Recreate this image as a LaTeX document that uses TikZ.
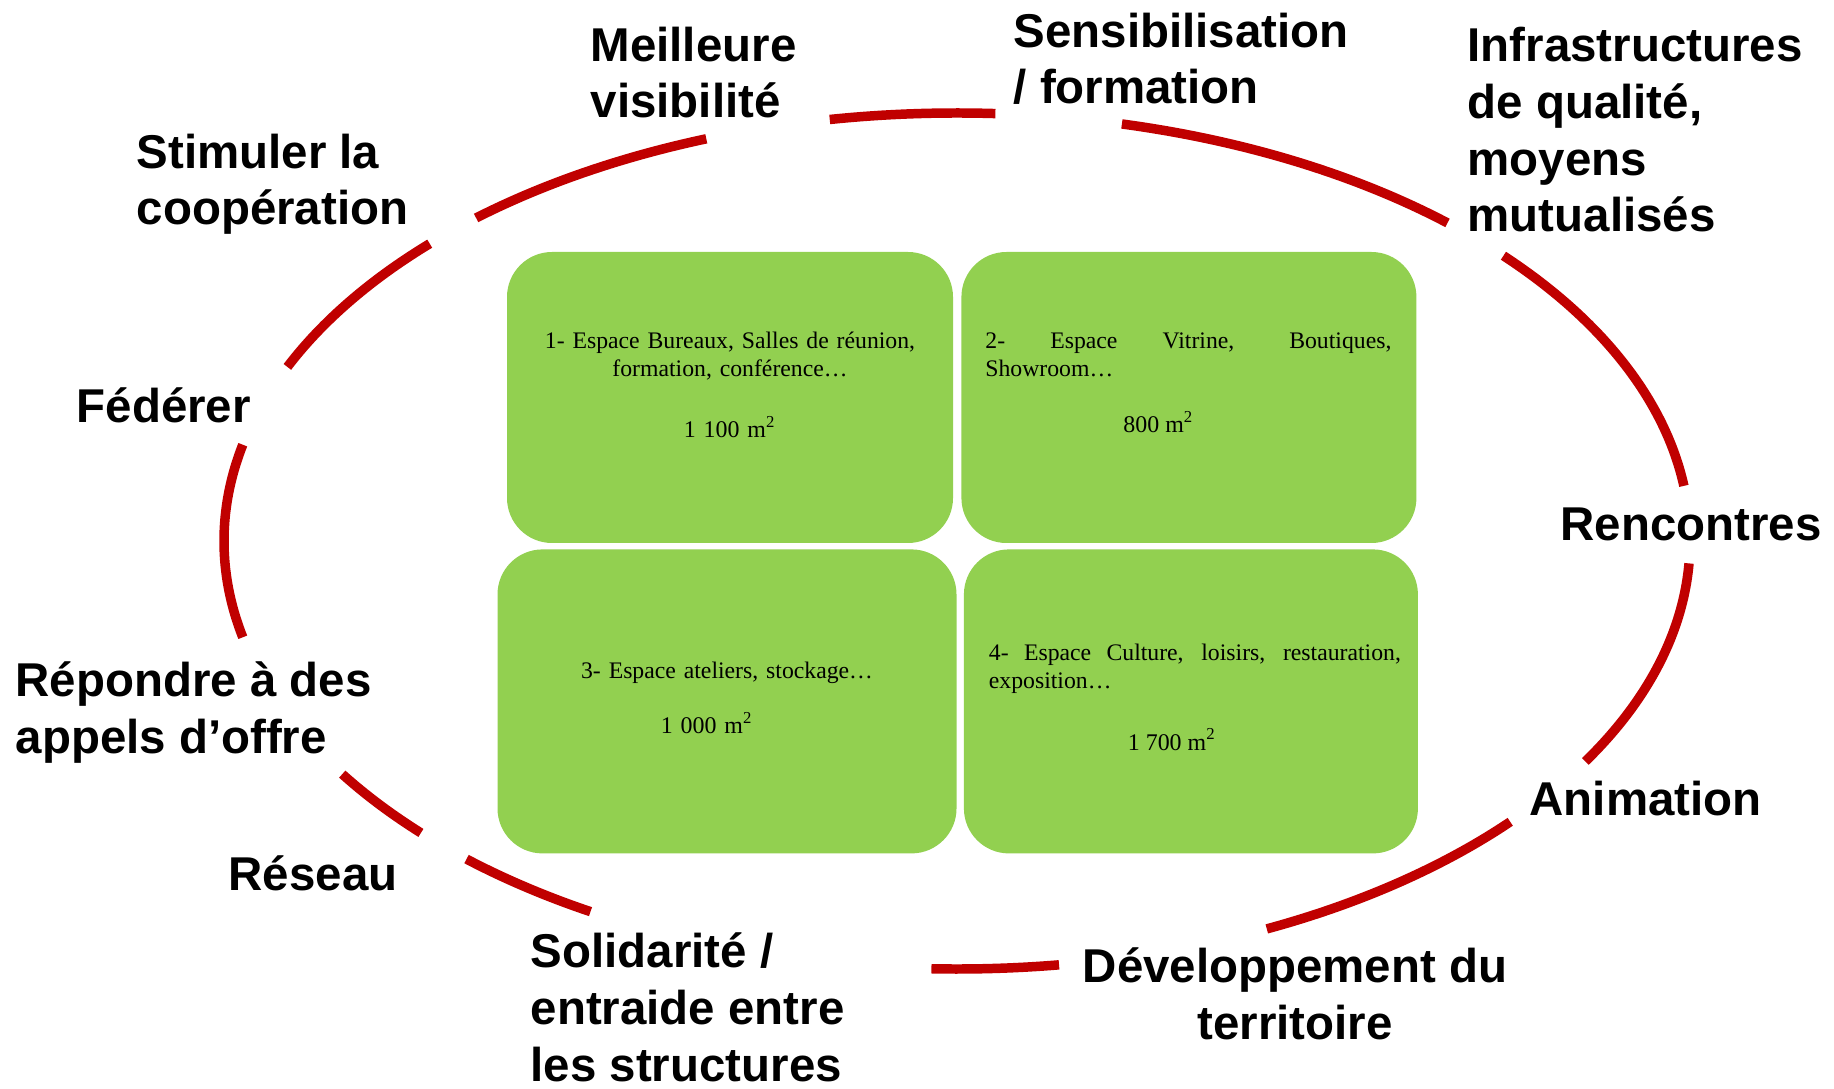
\documentclass[tikz,border=0pt]{standalone}
\usepackage{fontspec}
\setsansfont{Liberation Sans}
\newfontfamily\zonefont{Liberation Serif}
\usetikzlibrary{positioning}
\definecolor{ringred}{HTML}{C00000}
\definecolor{boxgreen}{HTML}{92D050}

\begin{document}
\begin{tikzpicture}[
ring/.style={draw=ringred, line width=2.7pt},
zone/.style={rectangle, rounded corners=0.45cm, fill=boxgreen, inner sep=0pt},
zonetext/.style={inner sep=0pt, font=\zonefont\fontsize{6.75}{8}\selectfont},
theme/.style={anchor=base west, align=left, inner sep=0pt, font=\sffamily\bfseries\fontsize{13.5}{16.2}\selectfont}
]
\useasboundingbox (0,0) rectangle (18.34,10.88);
\coordinate (hub) at (9.57,5.47);

\foreach \s/\e in {110/131, 87/100, 48/77, 7.4/41.8, -31/-3, -65/-41, -92/-82, -132/-120, -147/-137, 167/193, 136/156}
  \draw[ring] (hub) ++(\s:7.33cm and 4.28cm) arc[start angle=\s, end angle=\e, x radius=7.33cm, y radius=4.28cm];

\node[zone, minimum width=4.46cm, minimum height=2.91cm](bureaux) at (7.30,6.905){};
\node[zone, minimum width=4.55cm, minimum height=2.91cm](vitrine)[right=0.07cm of bureaux]{};
\node[zone, minimum width=4.59cm, minimum height=3.04cm](ateliers)[below=0.05cm of bureaux, xshift=-0.03cm]{};
\node[zone, minimum width=4.54cm, minimum height=3.04cm](culture)[right=0.06cm of ateliers]{};

\node[zonetext, text width=4.46cm, align=center](bureaux_txt)[below=0.8cm of bureaux.north]{1- Espace Bureaux, Salles de réunion,\\ formation, conférence\dots\par\vspace{0.33cm}{\fontsize{6.8}{8.5}\selectfont 1 100 m\textsuperscript{2}}};
\node[zonetext, text width=4.06cm, align=justify](vitrine_txt)[below right=0.81cm and 0.24cm of vitrine.north west]{2- Espace Vitrine, Boutiques,\linebreak Showroom\dots\par\vspace{0.28cm}\hspace*{1.38cm}{\fontsize{6.8}{8.5}\selectfont 800 m\textsuperscript{2}}};
\node[zonetext, text width=4.59cm, align=center](ateliers_txt)[below=1.13cm of ateliers.north]{3- Espace ateliers, stockage\dots\par\vspace{0.27cm}\hspace*{-0.4cm}{\fontsize{6.8}{8.5}\selectfont 1 000 m\textsuperscript{2}}};
\node[zonetext, text width=4.12cm, align=justify](culture_txt)[below right=0.95cm and 0.25cm of culture.north west]{4- Espace Culture, loisirs, restauration,\linebreak exposition\dots\par\vspace{0.33cm}\hspace*{1.39cm}{\fontsize{6.8}{8.5}\selectfont 1 700 m\textsuperscript{2}}};

\node[theme](visibilite) at (5.90,9.70){Meilleure\\visibilité};
\node[theme](sensibilisation) at (10.13,9.84){Sensibilisation\\/ formation};
\node[theme](infrastructures) at (14.67,8.56){Infrastructures\\de qualité,\\moyens\\mutualisés};
\node[theme](cooperation) at (1.36,8.63){Stimuler la\\coopération};
\node[theme](federer) at (0.76,6.65){Fédérer};
\node[theme](rencontres) at (15.60,5.47){Rencontres};
\node[theme](appels) at (0.15,3.35){Répondre à des\\appels d’offre};
\node[theme](reseau) at (2.28,1.98){Réseau};
\node[theme](solidarite) at (5.30,0.07){Solidarité /\\entraide entre\\les structures};
\node[theme, anchor=base, align=center](territoire) at (12.95,0.49){Développement du\\territoire};
\node[theme](animation) at (15.29,2.73){Animation};
\end{tikzpicture}
\end{document}
